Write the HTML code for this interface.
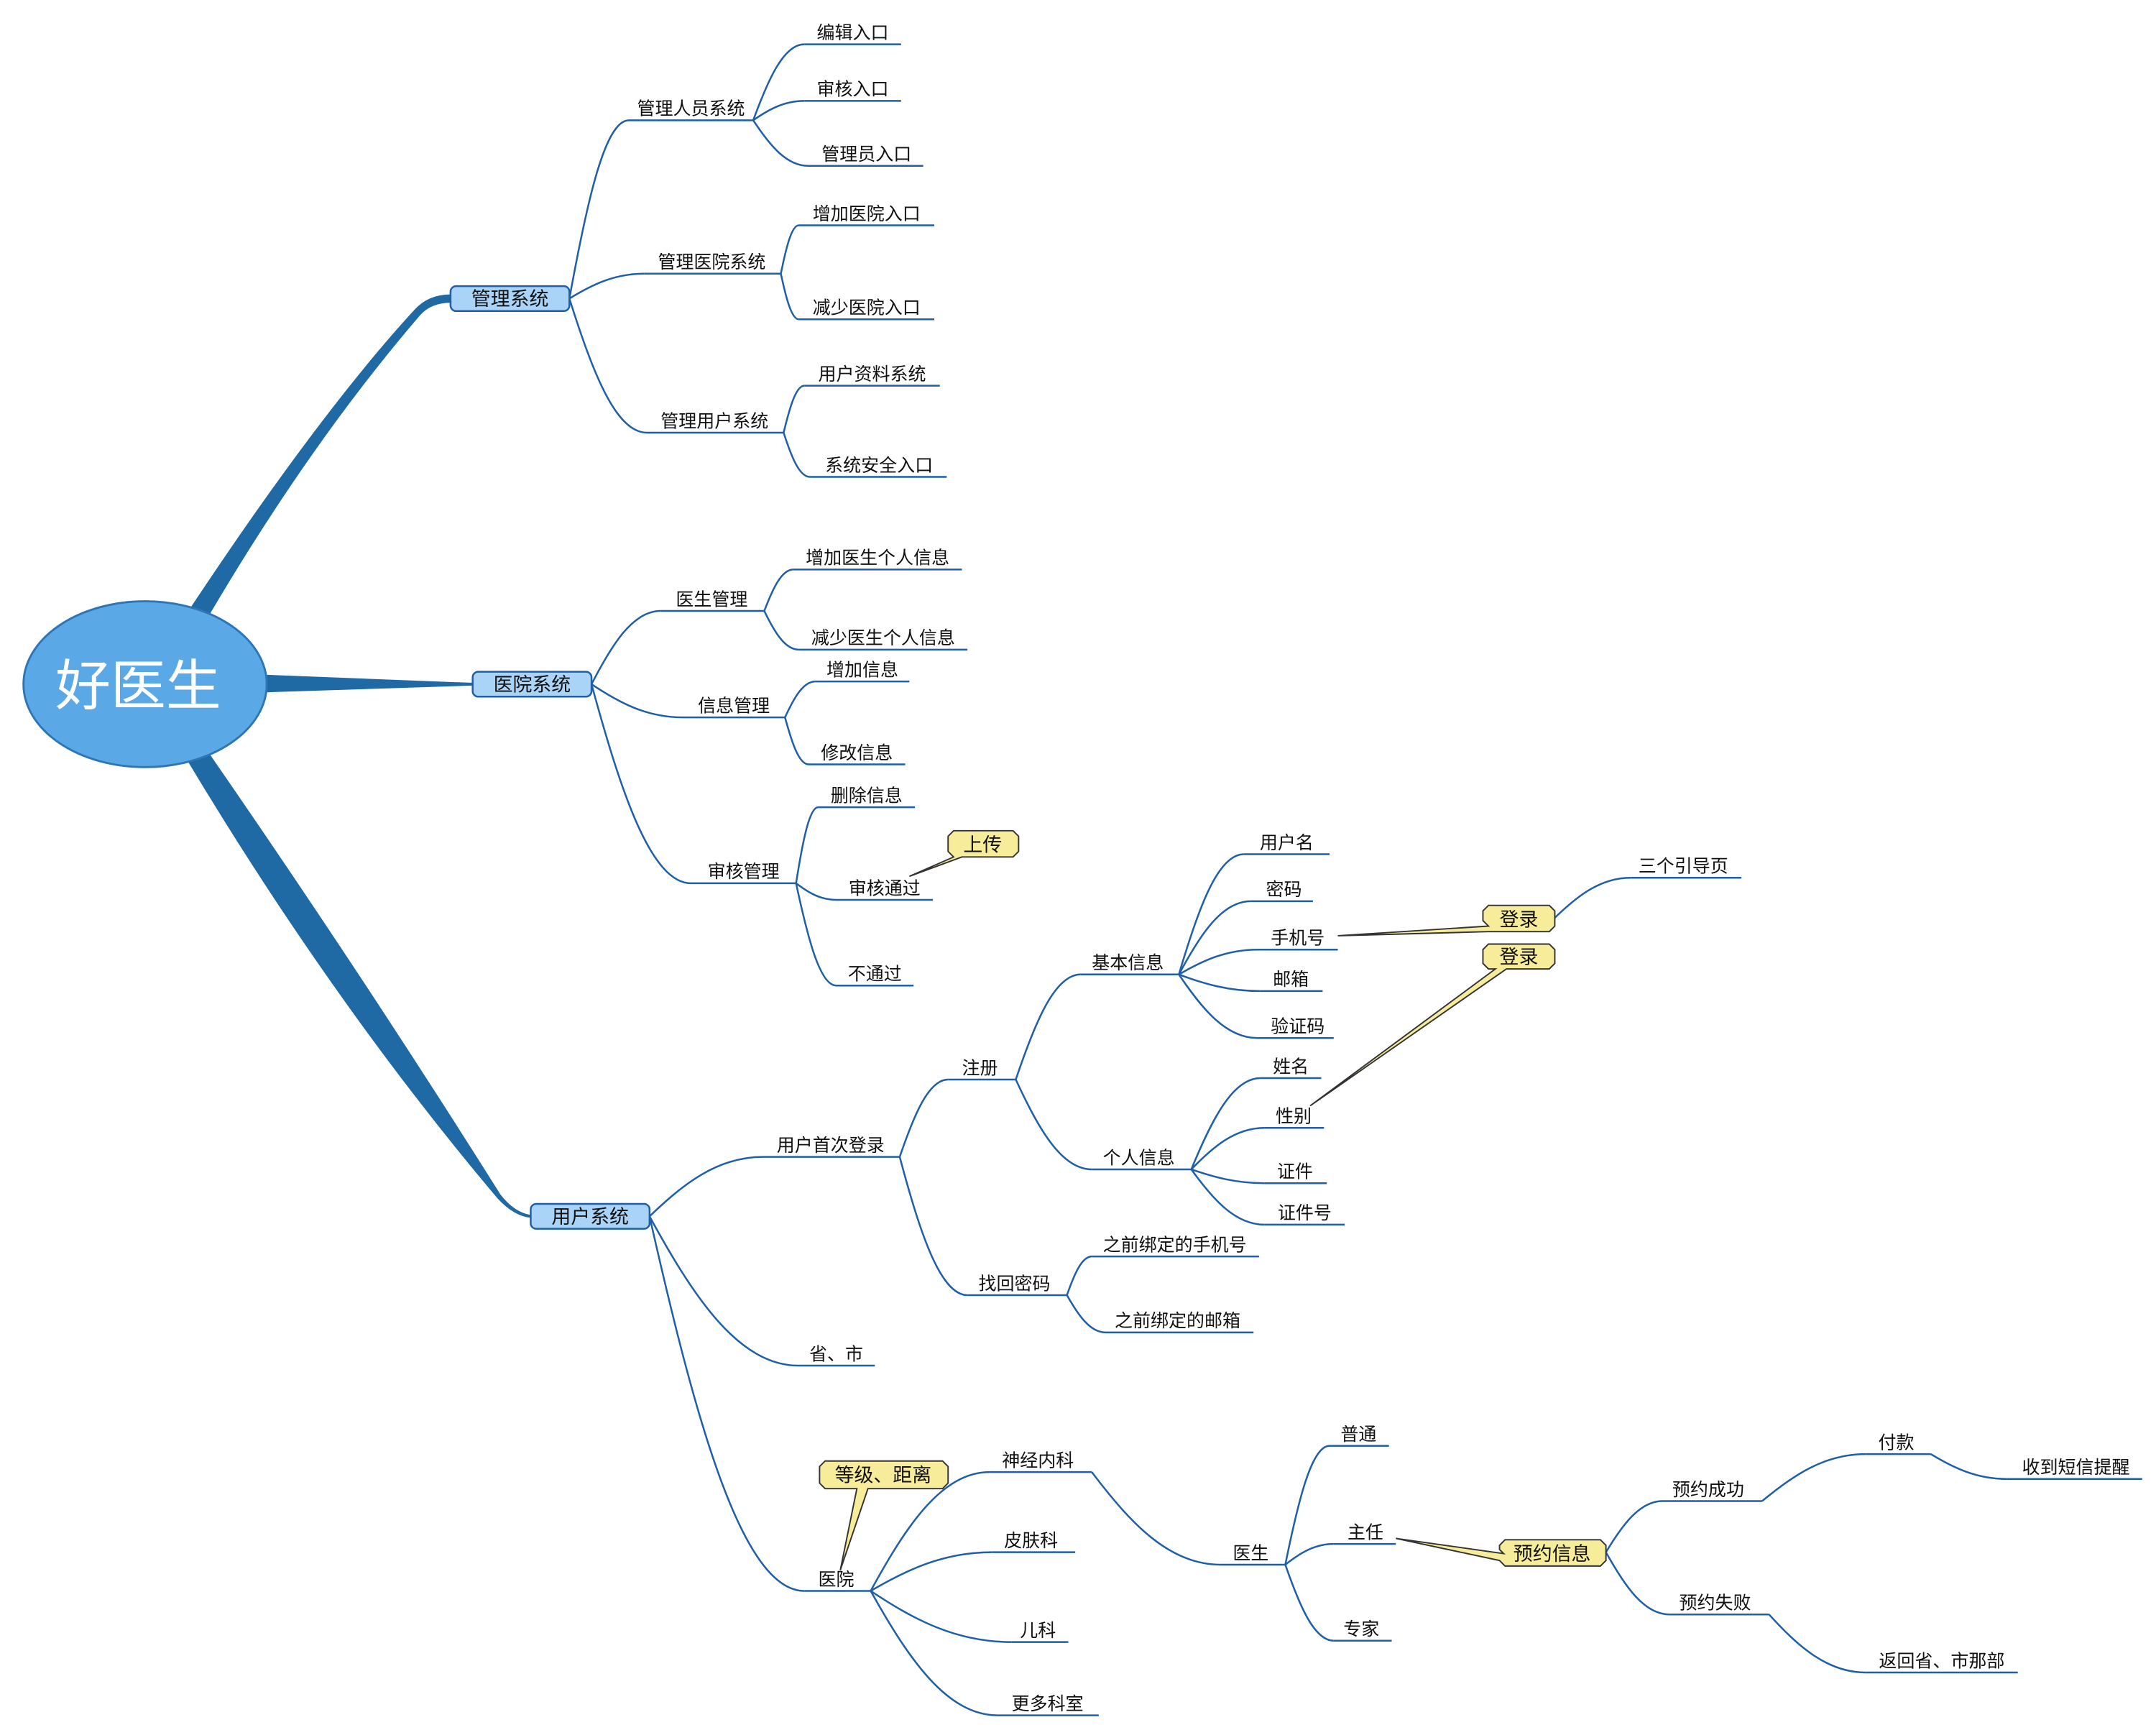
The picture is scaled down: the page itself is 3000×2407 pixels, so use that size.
<!DOCTYPE html>
<html><head><meta charset="utf-8">
<style>
html,body{margin:0;padding:0;background:#fff;}
svg{display:block;}
text{font-family:"Liberation Sans","Noto Sans CJK SC",sans-serif;fill:#111;}
</style></head>
<body>
<svg id="s" width="3000" height="2407" viewBox="0 0 1560 1251.6" xmlns="http://www.w3.org/2000/svg">
<rect width="1560" height="1252" fill="#fff"/>
<g fill="#1f69a4">
<path d="M133,447 Q230,300 300,224 Q310,213 326,213 L326,219 Q312,219 304,228 Q225,320 152,444 Z"/>
<path d="M188,488 L342,494 L342,496 L188,501 Z"/>
<path d="M133,546 Q240,725 360,867 Q372,880 384,881 L384,879 Q372,877 362,864 Q262,705 152,546 Z"/>
</g>
<g id="edges" fill="none" stroke="#1f5fa8" stroke-width="1.3"></g>
<ellipse cx="105" cy="495" rx="88" ry="60" fill="#5aa9e6" stroke="#2e75b6" stroke-width="1.5"/>
<text x="100" y="510" font-size="40" text-anchor="middle" style="fill:#fff">好医生</text>
<g fill="#a9d4f7" stroke="#1f5fa8" stroke-width="1.3">
<rect x="326" y="207" width="86" height="18" rx="4"/>
<rect x="342" y="486" width="86" height="18" rx="4"/>
<rect x="384" y="871" width="86" height="18" rx="4"/>
</g>
<g font-size="14" text-anchor="middle">
<text x="369" y="221">管理系统</text>
<text x="385" y="500">医院系统</text>
<text x="427" y="885">用户系统</text>
</g>
<g fill="#f7ec9a" stroke="#333" stroke-width="1">
<path d="M658,634 L690,620 L686,616 L686,605 L690,601 L733,601 L737,605 L737,616 L733,620 L696,620 Z"/>
<path d="M968,677 L1077,670 L1073,666 L1073,659 L1077,655 L1121,655 L1125,659 L1125,670 L1121,674 L1077,674 Z"/>
<path d="M948,800 L1082,701 L1077,701 L1073,697 L1073,687 L1077,683 L1121,683 L1125,687 L1125,697 L1121,701 L1090,701 Z"/>
<path d="M608,1136 L620,1077 L597,1077 L593,1073 L593,1061 L597,1057 L682,1057 L686,1061 L686,1073 L682,1077 L628,1077 Z"/>
<path d="M1010,1113 L1088,1124 L1085,1121 L1085,1118 L1089,1114 L1158,1114 L1162,1118 L1162,1129 L1158,1133 L1089,1133 L1085,1129 Z"/>
</g>
<g font-size="14" text-anchor="middle">
<text x="711" y="616">上传</text>
<text x="1099" y="670">登录</text>
<text x="1099" y="697">登录</text>
<text x="639" y="1072">等级、距离</text>
<text x="1123" y="1129">预约信息</text>
</g>
<g id="labels" font-size="13" text-anchor="middle"></g>
</svg>
<script>
var N={
a:[455,545,87],a1:[582,652,32],a2:[582,652,73],a3:[585,668,120],
b:[466,565,198],b1:[578,676,163],b2:[578,676,231],
c:[468,567,313],c1:[582,680,279],c2:[586,685,345],
d:[478,553,442],d1:[574,696,412],d2:[578,700,470],
e:[494,568,519],e1:[590,658,493],e2:[585,655,553],
f:[500,576,639],f1:[592,662,584],f2:[605,675,651],f3:[605,661,713],
g:[552,651,837],h:[686,735,781],
i:[782,853,705],i1:[900,962,618],i2:[905,950,652],i3:[910,968,687],i4:[912,957,717],i5:[910,965,751],
j:[790,862,846],j1:[912,956,780],j2:[915,958,816],j3:[915,960,856],j4:[915,973,886],
k:[700,772,937],k1:[790,911,909],k2:[800,907,964],
l:[578,633,988],m:[582,630,1151],
m1:[716,790,1065],m2:[718,778,1123],m3:[732,773,1188],m4:[722,795,1241],
n:[883,930,1132],n1:[962,1005,1046],n2:[965,1010,1117],n3:[965,1007,1187],
o1:[1203,1275,1086],o2:[1208,1280,1168],
p1:[1350,1397,1052],p2:[1452,1550,1070],q1:[1350,1460,1210],
r:[1180,1260,635]
};
var E=[[[412,216],"a"],[[412,216],"b"],[[412,216],"c"],["a","a1"],["a","a2"],["a","a3"],["b","b1"],["b","b2"],["c","c1"],["c","c2"],
[[428,495],"d"],[[428,495],"e"],[[428,495],"f"],["d","d1"],["d","d2"],["e","e1"],["e","e2"],["f","f1"],["f","f2"],["f","f3"],
[[470,880],"g"],[[470,880],"l"],[[470,880],"m"],["g","h"],["g","k"],["h","i"],["h","j"],["i","i1"],["i","i2"],["i","i3"],["i","i4"],["i","i5"],
["j","j1"],["j","j2"],["j","j3"],["j","j4"],["k","k1"],["k","k2"],["m","m1"],["m","m2"],["m","m3"],["m","m4"],["m1","n"],
["n","n1"],["n","n2"],["n","n3"],[[1162,1123],"o1"],[[1162,1123],"o2"],["o1","p1"],["p1","p2"],["o2","q1"],[[1125,664],"r"]];
var ns="http://www.w3.org/2000/svg",eg=document.getElementById("edges");
function P(s){return typeof s==="string"?[N[s][1],N[s][2]]:s;}
E.forEach(function(e){var p=P(e[0]),c=N[e[1]],cx=c[0],cy=c[2],dx=cx-p[0],dy=cy-p[1];
var pa=document.createElementNS(ns,"path");
pa.setAttribute("d","M"+p[0]+","+p[1]+" C"+(p[0]+dx*0.3)+","+(p[1]+dy*0.55)+" "+(p[0]+dx*0.6)+","+cy+" "+cx+","+cy);eg.appendChild(pa);});
for(var k in N){var n=N[k];var l=document.createElementNS(ns,"path");l.setAttribute("d","M"+n[0]+","+n[2]+" H"+n[1]);eg.appendChild(l);}
</script>
<div style="position:absolute;left:0;top:0;width:3000px;height:2407px;pointer-events:none">
<svg width="3000" height="2407" viewBox="0 0 1560 1251.6" xmlns="http://www.w3.org/2000/svg">
<g font-size="13" text-anchor="middle" font-family="Liberation Sans, Noto Sans CJK SC, sans-serif" fill="#111">
<text x="500" y="83">管理人员系统</text><text x="617" y="28">编辑入口</text><text x="617" y="69">审核入口</text><text x="627" y="116">管理员入口</text>
<text x="515" y="194">管理医院系统</text><text x="627" y="159">增加医院入口</text><text x="627" y="227">减少医院入口</text>
<text x="517" y="309">管理用户系统</text><text x="631" y="275">用户资料系统</text><text x="636" y="341">系统安全入口</text>
<text x="515" y="438">医生管理</text><text x="635" y="408">增加医生个人信息</text><text x="639" y="466">减少医生个人信息</text>
<text x="531" y="515">信息管理</text><text x="624" y="489">增加信息</text><text x="620" y="549">修改信息</text>
<text x="538" y="635">审核管理</text><text x="627" y="580">删除信息</text><text x="640" y="647">审核通过</text><text x="633" y="709">不通过</text>
<text x="601" y="833">用户首次登录</text><text x="709" y="777">注册</text>
<text x="816" y="701">基本信息</text><text x="931" y="614">用户名</text><text x="929" y="648">密码</text><text x="939" y="683">手机号</text><text x="934" y="713">邮箱</text><text x="939" y="747">验证码</text>
<text x="824" y="842">个人信息</text><text x="934" y="776">姓名</text><text x="936" y="812">性别</text><text x="937" y="852">证件</text><text x="944" y="882">证件号</text>
<text x="734" y="933">找回密码</text><text x="850" y="905">之前绑定的手机号</text><text x="852" y="960">之前绑定的邮箱</text>
<text x="605" y="984">省、市</text><text x="605" y="1147">医院</text>
<text x="751" y="1061">神经内科</text><text x="746" y="1119">皮肤科</text><text x="751" y="1184">儿科</text><text x="758" y="1237">更多科室</text>
<text x="905" y="1128">医生</text><text x="983" y="1042">普通</text><text x="988" y="1113">主任</text><text x="985" y="1183">专家</text>
<text x="1236" y="1082">预约成功</text><text x="1241" y="1164">预约失败</text>
<text x="1372" y="1048">付款</text><text x="1502" y="1066">收到短信提醒</text><text x="1405" y="1206">返回省、市那部</text>
<text x="1218" y="631">三个引导页</text>
</g>
</svg>
</div>
</body></html>
